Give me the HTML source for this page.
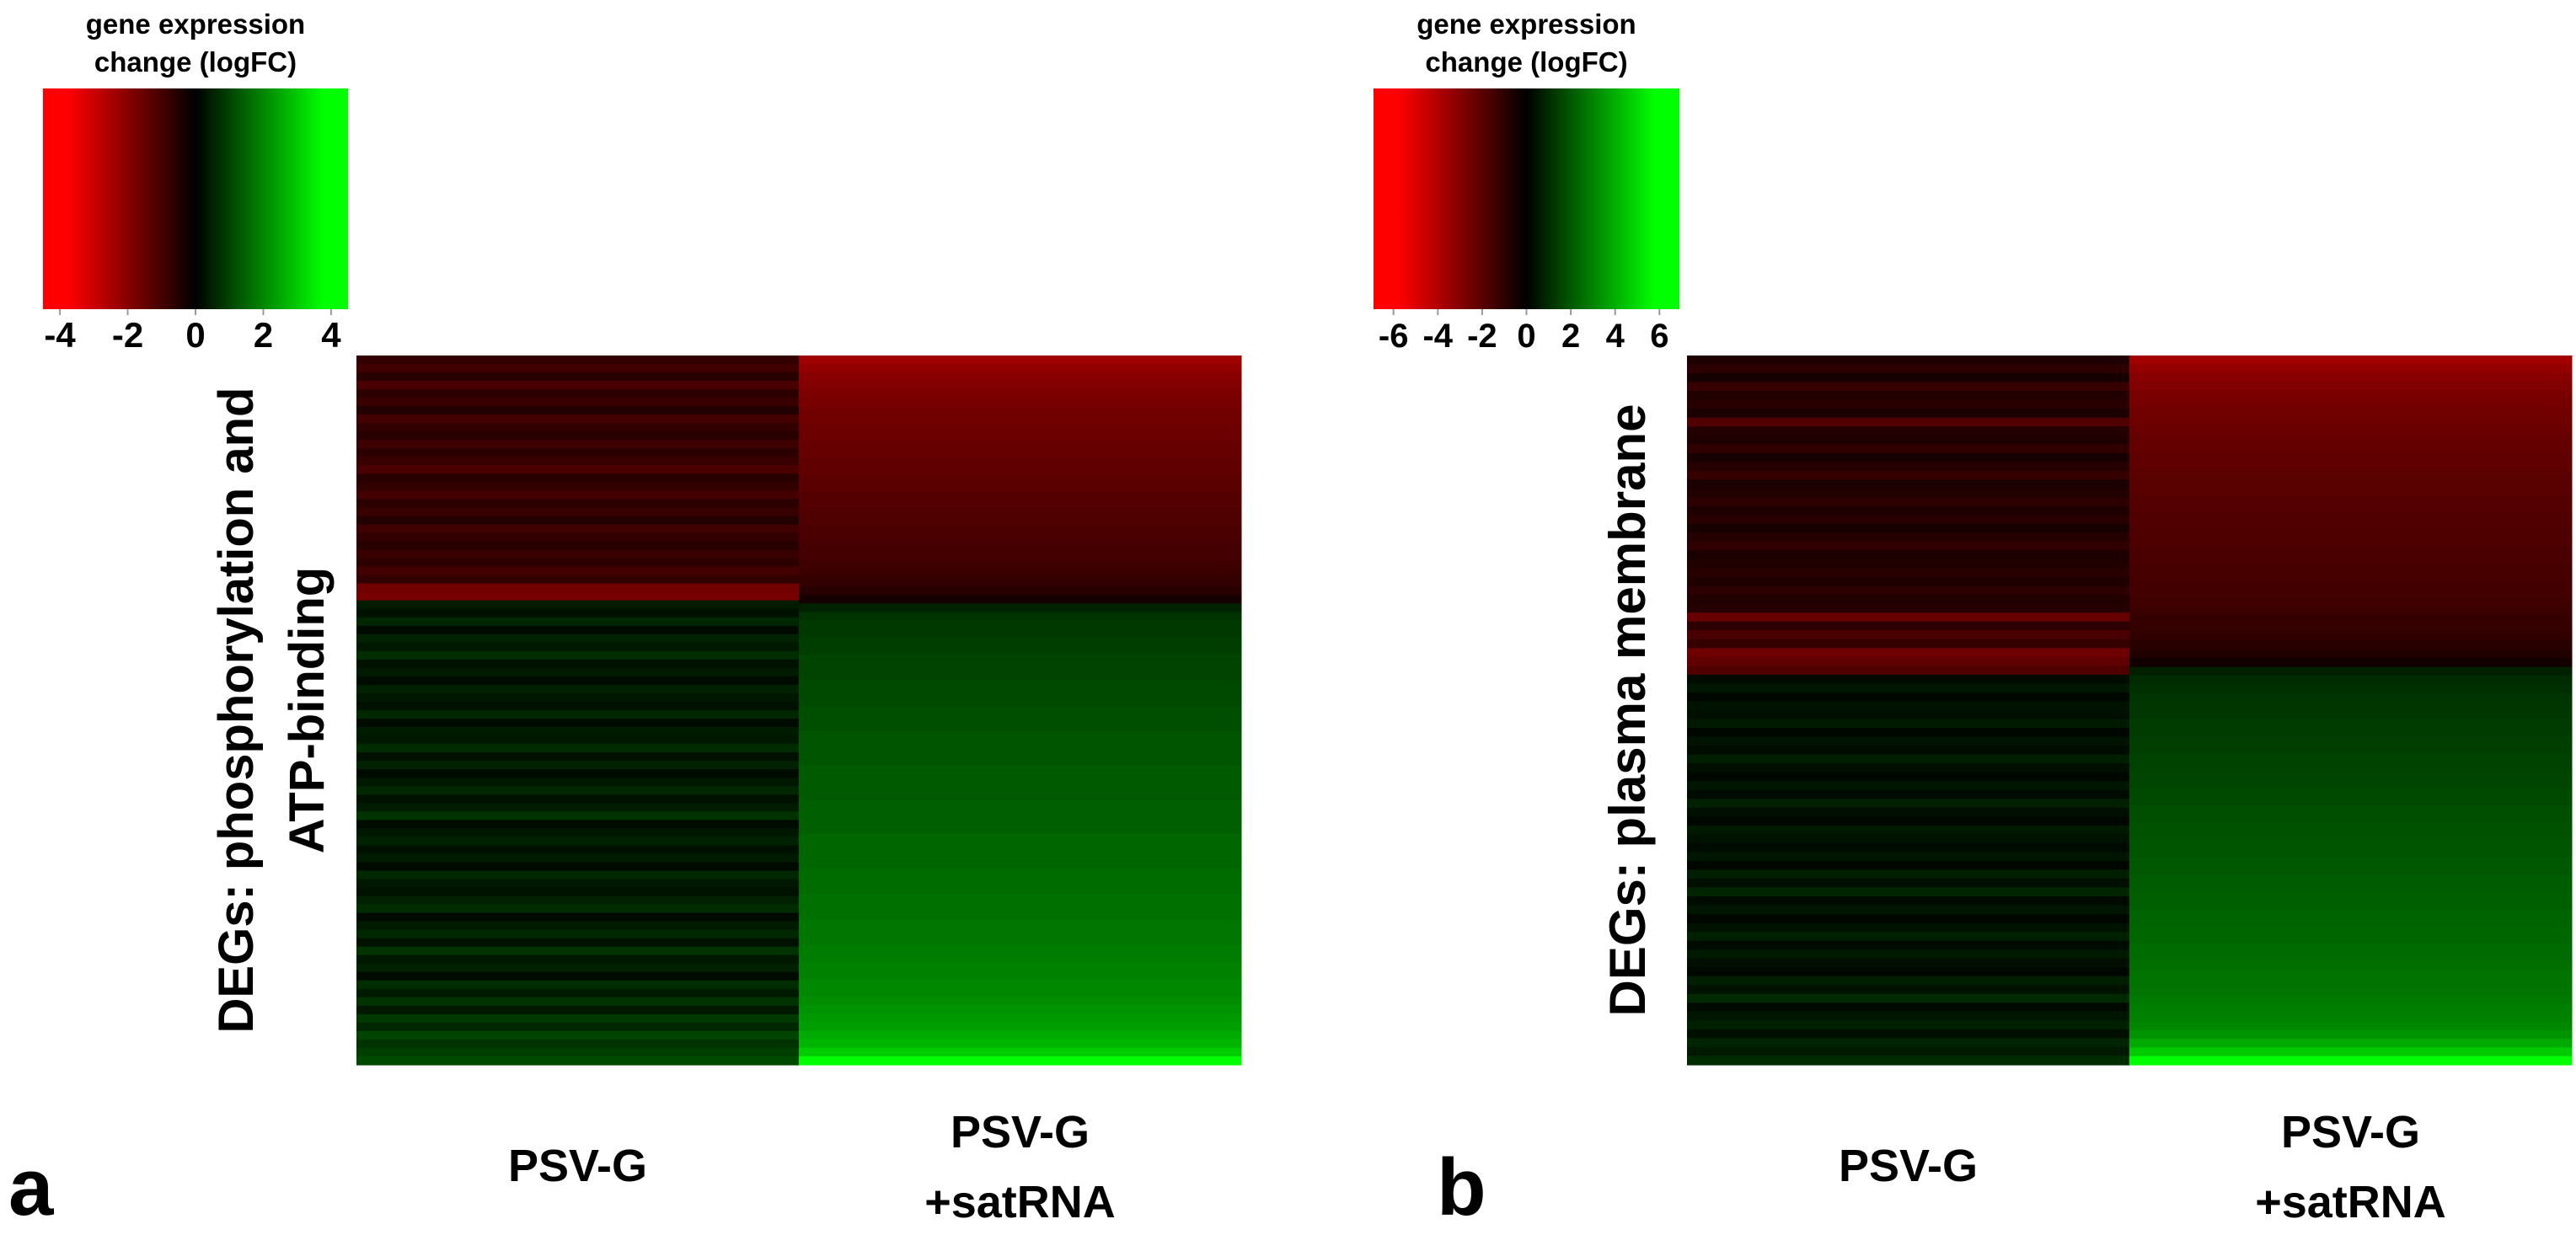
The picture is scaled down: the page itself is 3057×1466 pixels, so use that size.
<!DOCTYPE html>
<html><head><meta charset="utf-8"><style>
html,body{margin:0;padding:0;background:#fff;}
svg{display:block;font-family:"Liberation Sans",sans-serif;font-weight:bold;}
</style></head><body>
<svg id="fig" width="3057" height="1466" viewBox="0 0 3057 1466" xmlns="http://www.w3.org/2000/svg">
<defs>
<linearGradient id="cbar" x1="0" x2="1" y1="0" y2="0">
<stop offset="0" stop-color="#ff0000"/><stop offset="0.08" stop-color="#ff0000"/><stop offset="0.5" stop-color="#000000"/><stop offset="0.92" stop-color="#00ff00"/><stop offset="1" stop-color="#00ff00"/>
</linearGradient>
</defs>
<g id="panelA"></g>
<g id="panelB"></g>
</svg>
<script>
// categories
const conditions = ["PSV-G", "PSV-G +satRNA"];
// tick labels
const ticksA = [-4, -2, 0, 2, 4];
const ticksB = [-6, -4, -2, 0, 2, 4, 6];
// Panel a values (rows top->bottom)
const aPsvG = [-0.9,-1.1,-0.7,-1.3,-0.8,-1.0,-0.6,-1.2,-0.9,-0.7,-1.1,-0.8,-1.0,-1.3,-0.7,-0.9,-1.2,-0.8,-1.0,-0.6,-1.1,-0.9,-0.7,-1.0,-0.8,-1.2,-0.9,-2.0,-2.1,
 0.5,0.3,0.7,0.2,0.6,0.4,0.8,0.3,0.5,0.2,0.6,0.4,0.3,0.7,0.2,0.5,0.4,0.8,0.3,0.6,0.2,0.4,0.7,0.3,0.5,0.9,0.2,0.4,0.6,0.3,0.5,0.2,0.7,0.4,0.3,0.6,0.8,0.2,0.5,0.7,0.3,0.9,0.4,0.6,0.2,0.8,0.5,0.9,0.4,1.0,0.7,1.2,0.9,1.1,1.3];
const aSat = [-2.8,-2.6,-2.4,-2.3,-2.2,-2.1,-2.0,-2.0,-1.9,-1.9,-1.8,-1.8,-1.7,-1.7,-1.6,-1.6,-1.5,-1.5,-1.4,-1.4,-1.3,-1.3,-1.2,-1.2,-1.1,-1.0,-0.9,-0.7,-0.4,
 0.6,0.9,1.0,1.0,1.1,1.1,1.2,1.2,1.2,1.3,1.3,1.3,1.4,1.4,1.4,1.5,1.5,1.5,1.5,1.6,1.6,1.6,1.6,1.7,1.7,1.7,1.7,1.8,1.8,1.8,1.8,1.9,1.9,1.9,2.0,2.0,2.0,2.1,2.1,2.1,2.2,2.2,2.3,2.3,2.4,2.4,2.5,2.6,2.7,2.8,3.0,3.2,3.6,4.5];
// Panel b values
const bPsvG = [-0.8,-1.2,-0.6,-1.5,-0.9,-1.1,-0.7,-2.2,-1.0,-0.8,-1.3,-0.6,-1.0,-1.4,-0.7,-0.9,-1.2,-0.8,-1.1,-0.6,-1.0,-1.3,-0.7,-0.9,-1.1,-0.8,-1.2,-0.9,-1.0,-2.8,-1.2,-2.0,-1.4,-3.0,-2.6,-2.2,
 0.3,0.6,0.2,0.5,0.4,0.7,0.2,0.5,0.3,0.8,0.4,0.2,0.6,0.3,0.9,0.4,0.2,0.7,0.5,0.3,0.6,0.2,0.8,0.4,1.0,0.3,0.6,0.2,0.5,0.9,0.3,0.7,0.4,0.2,0.8,0.5,1.1,0.3,0.6,0.9,0.4,1.0,0.7,1.2];
const bSat = [-4.4,-4.0,-3.7,-3.5,-3.3,-3.2,-3.1,-3.0,-2.9,-2.8,-2.7,-2.6,-2.6,-2.5,-2.4,-2.4,-2.3,-2.3,-2.2,-2.2,-2.1,-2.1,-2.0,-2.0,-1.9,-1.9,-1.8,-1.8,-1.7,-1.6,-1.5,-1.4,-1.3,-1.1,-0.9,-0.5,
 0.9,1.2,1.3,1.4,1.5,1.5,1.6,1.6,1.7,1.7,1.8,1.8,1.9,1.9,2.0,2.0,2.1,2.1,2.2,2.2,2.3,2.3,2.4,2.4,2.5,2.5,2.6,2.6,2.7,2.7,2.8,2.8,2.9,2.9,3.0,3.1,3.1,3.2,3.3,3.4,3.5,3.7,4.0,4.6,5.5,6.9];

const NS = "http://www.w3.org/2000/svg";
function mk(tag, attrs, parent){const e=document.createElementNS(NS,tag);for(const k in attrs)e.setAttribute(k,attrs[k]);parent.appendChild(e);return e;}
function color(v, M){const t=Math.max(-1,Math.min(1,v/M));const c=Math.round(Math.abs(t)*255);return t<0?`rgb(${c},0,0)`:`rgb(0,${c},0)`;}

function panel(g, cfg){
  const cb = mk('rect',{x:cfg.cbX,y:105,width:cfg.cbW,height:262,fill:'url(#cbar)'},g);
  
  
  const xs = v => cfg.cbX + (v + cfg.M) / (2*cfg.M) * cfg.cbW;
  cfg.ticks.forEach(t=>{
    const tl = mk('line',{x1:xs(t),x2:xs(t),y1:367,y2:374,stroke:'#999','stroke-width':2},g);
    
    
    const tx = mk('text',{x:xs(t),y:412,'text-anchor':'middle','font-size':cfg.tickFs},g);
    tx.textContent = t;
    
    
  });
  const cx = cfg.cbX + cfg.cbW/2;
  const t1 = mk('text',{x:cx,y:40,'text-anchor':'middle','font-size':33},g); t1.textContent='gene expression';
  
  
  const t2 = mk('text',{x:cx,y:85,'text-anchor':'middle','font-size':33},g); t2.textContent='change (logFC)';
  
  
  const top=422, bottom=1264, H=bottom-top;
  const cols=[cfg.left, cfg.right];
  const colX=[cfg.hx, cfg.hx+cfg.cw];
  cols.forEach((arr,ci)=>{
    const rh = H/arr.length;
    arr.forEach((v,ri)=>{
      const r = mk('rect',{x:colX[ci],y:top+ri*rh,width:cfg.cw+0.5,height:rh+0.6,fill:color(v,cfg.M)},g);
      
      
    });
    const lx = colX[ci]+cfg.cw/2;
    if(ci===0){
      const l = mk('text',{x:lx,y:1402,'text-anchor':'middle','font-size':54},g); l.textContent=conditions[0];
      
      
    } else {
      const l1 = mk('text',{x:lx,y:1362,'text-anchor':'middle','font-size':54},g); l1.textContent='PSV-G';
      
      
      const l2 = mk('text',{x:lx,y:1445,'text-anchor':'middle','font-size':54},g); l2.textContent='+satRNA';
      
      
    }
  });
  const cy = (top+bottom)/2;
  cfg.ytitle.forEach((s,i)=>{
    const x = cfg.yx[i];
    const yt = mk('text',{x:x,y:cy,'text-anchor':'middle','font-size':cfg.yfs,transform:`rotate(-90 ${x} ${cy})`},g);
    yt.textContent = s;
    
    
  });
  const pl = mk('text',{x:cfg.letterX,y:1442,'font-size':96},g);
  pl.textContent = cfg.letter;
  
  
}

panel(document.getElementById('panelA'),{cbX:51,cbW:362,M:4.5,ticks:ticksA,tickFs:42,hx:423,cw:525,left:aPsvG,right:aSat,
  ytitle:['DEGs: phosphorylation and','ATP-binding'],yx:[300,384],yfs:58,letter:'a',letterX:10});
panel(document.getElementById('panelB'),{cbX:1630,cbW:363,M:6.9,ticks:ticksB,tickFs:40,hx:2002,cw:525,left:bPsvG,right:bSat,
  ytitle:['DEGs: plasma membrane'],yx:[1952],yfs:60,letter:'b',letterX:1705});
</script>
</body></html>
